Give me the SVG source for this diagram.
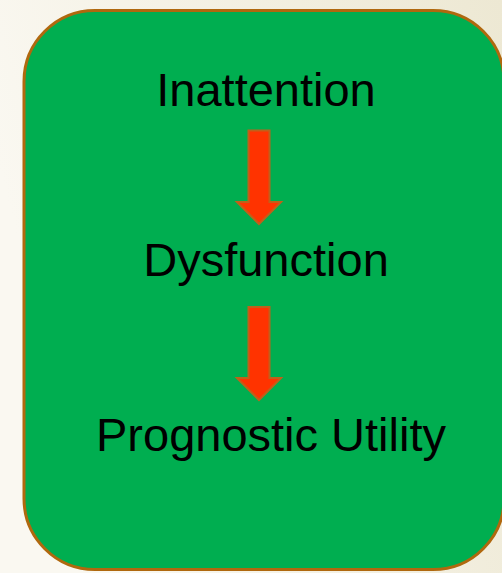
<svg xmlns="http://www.w3.org/2000/svg" width="502" height="573" viewBox="0 0 502 573">
  <defs>
    <linearGradient id="bg" x1="0" y1="0.3" x2="1" y2="0">
      <stop offset="0" stop-color="#FAF8F1"/>
      <stop offset="1" stop-color="#EDE8D3"/>
    </linearGradient>
    <style>
      .box { fill: #00AE50; stroke: #B0680E; stroke-width: 3; }
      .lbl { font-family: "Liberation Sans", Arial, sans-serif; font-size: 47px; fill: #000; text-anchor: middle; }
      .arrow { fill: #FF3300; stroke: #C0601A; stroke-width: 2; stroke-linejoin: miter; }
    </style>
  </defs>
  <rect width="502" height="573" fill="url(#bg)"/>
  <g id="panel">
    <rect class="box" x="24" y="10.5" width="480" height="559" rx="71" ry="71"/>
  </g>
  <g id="node-inattention">
    <text class="lbl" x="266" y="106">Inattention</text>
  </g>
  <g id="node-dysfunction">
    <text class="lbl" x="266" y="276">Dysfunction</text>
  </g>
  <g id="node-prognostic">
    <text class="lbl" x="271" y="451">Prognostic Utility</text>
  </g>
  <g id="connectors">
    <path class="arrow" d="M248.5,130.5 H269.5 V202 H281 L259,224 L237,202 H248.5 Z"/>
    <path class="arrow" d="M248.5,307 H269.5 V378 H281 L259,400 L237,378 H248.5 Z"/>
  </g>
</svg>
